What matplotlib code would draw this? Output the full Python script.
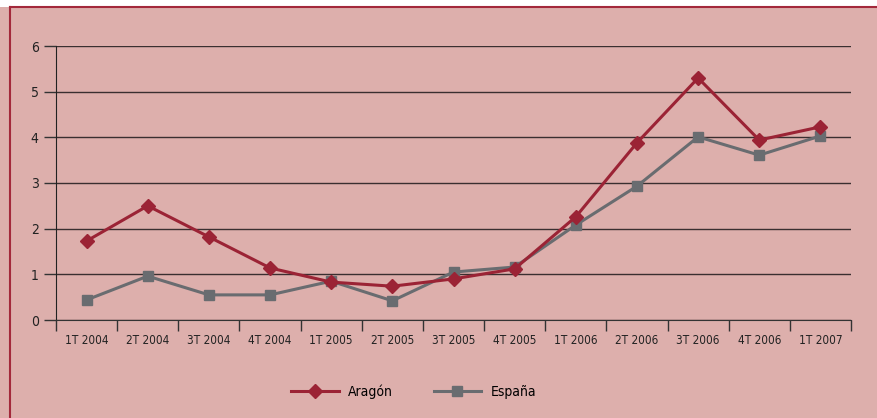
import matplotlib.pyplot as plt
import matplotlib.lines as mlines
import numpy as np

plt.rcParams['font.family'] = ['DejaVu Sans']
plt.rcParams['font.stretch'] = 'condensed'

quarters = ['1T 2004', '2T 2004', '3T 2004', '4T 2004', '1T 2005', '2T 2005', '3T 2005',
            '4T 2005', '1T 2006', '2T 2006', '3T 2006', '4T 2006', '1T 2007']
aragon = [1.73, 2.50, 1.82, 1.14, 0.83, 0.74, 0.90, 1.12, 2.26, 3.88, 5.30, 3.94, 4.23]
espana = [0.44, 0.96, 0.55, 0.55, 0.85, 0.42, 1.05, 1.16, 2.08, 2.93, 4.01, 3.61, 4.03]

pink = '#ddafac'
red = '#9b2335'
grey = '#696c70'

fig = plt.figure(figsize=(8.77, 4.18), dpi=100, facecolor=pink)
# white strip on top, dark red frame on top and left
fig.patches.append(plt.Rectangle((0, 1 - 7 / 418), 1, 7 / 418, transform=fig.transFigure,
                                 facecolor='white', edgecolor='none', zorder=-1))
fig.lines.append(mlines.Line2D([10 / 877, 10 / 877], [0, 1 - 7 / 418], transform=fig.transFigure,
                               color='#a3293b', lw=1.5))
fig.lines.append(mlines.Line2D([10 / 877, 1], [1 - 7 / 418, 1 - 7 / 418], transform=fig.transFigure,
                               color='#a3293b', lw=1.5))

ax = fig.add_axes([56 / 877, 1 - 320 / 418, (851 - 56) / 877, (320 - 46) / 418])
ax.set_facecolor('none')

x = np.arange(len(quarters))
ax.plot(x, aragon, color=red, lw=2.2, marker='D', ms=7, label='Aragón', zorder=4)
ax.plot(x, espana, color=grey, lw=2.2, marker='s', ms=7, label='España', zorder=3)

ax.set_xlim(-0.5, len(quarters) - 0.5)
ax.set_ylim(0, 6)
ax.set_yticks(range(0, 7))
ax.yaxis.grid(True, color='#3a2f30', lw=1)
ax.set_axisbelow(True)

ax.set_xticks(x)
ax.set_xticklabels(quarters, fontsize=8.5, color='#222222')
ax.set_xticks(np.arange(-0.5, len(quarters), 1), minor=True)
ax.tick_params(axis='x', which='major', length=0, pad=10)
ax.tick_params(axis='x', which='minor', length=8, width=1, color='#333333')
ax.tick_params(axis='y', length=9, width=1, color='#333333', labelsize=10, labelcolor='#222222')

for s in ['top', 'right']:
    ax.spines[s].set_visible(False)
ax.spines['left'].set_color('#222222')
ax.spines['bottom'].set_color('#333333')

ax.legend(loc='upper center', bbox_to_anchor=(0.45, -0.19), ncol=2, frameon=False,
          fontsize=10, handlelength=3.4, columnspacing=2.9, handletextpad=0.7)

fig.savefig('out.png', dpi=100, facecolor=fig.get_facecolor())
